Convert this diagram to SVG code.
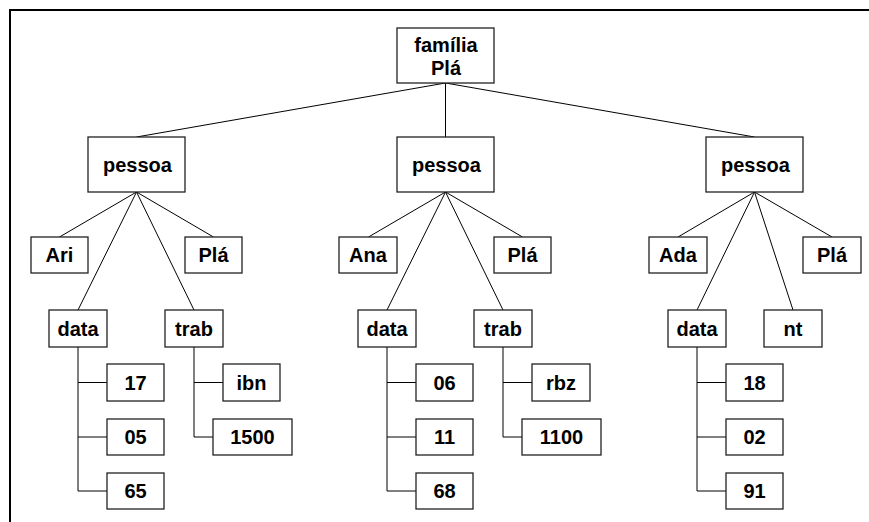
<svg xmlns="http://www.w3.org/2000/svg" width="869" height="522" viewBox="0 0 869 522">
<style>
rect.n{fill:#fff;stroke:#222;stroke-width:1.3}
text{font-family:"Liberation Sans",Arial,sans-serif;font-weight:bold;font-size:20px;text-anchor:middle;fill:#000}
#connectors line,#connectors path{stroke:#000;stroke-width:1;fill:none}
</style>
<rect x="0" y="0" width="869" height="522" fill="#fff"/>
<path d="M10,523 V10 H869" fill="none" stroke="#000" stroke-width="2"/>
<g id="connectors">
<line x1="445.5" y1="83" x2="136.5" y2="137"/>
<line x1="445.5" y1="83" x2="445.5" y2="137"/>
<line x1="445.5" y1="83" x2="754.5" y2="137"/>
<line x1="136.5" y1="192" x2="59.5" y2="237"/>
<line x1="136.5" y1="192" x2="78" y2="310"/>
<line x1="136.5" y1="192" x2="194" y2="310"/>
<line x1="136.5" y1="192" x2="213.5" y2="237"/>
<path d="M78,347 V491 H107 M78,382.5 H107 M78,437 H107"/>
<path d="M194,347 V437 H213 M194,382.5 H223"/>
<line x1="445.5" y1="192" x2="368.5" y2="237"/>
<line x1="445.5" y1="192" x2="387" y2="310"/>
<line x1="445.5" y1="192" x2="503" y2="310"/>
<line x1="445.5" y1="192" x2="522.5" y2="237"/>
<path d="M387,347 V491 H416 M387,382.5 H416 M387,437 H416"/>
<path d="M503,347 V437 H522 M503,382.5 H532"/>
<line x1="754.5" y1="192" x2="678" y2="237"/>
<line x1="754.5" y1="192" x2="697" y2="310"/>
<line x1="754.5" y1="192" x2="793" y2="310"/>
<line x1="754.5" y1="192" x2="832" y2="237"/>
<path d="M697,347 V491 H726 M697,382.5 H726 M697,437 H726"/>
</g>
<g id="familia"><rect class="n" x="397" y="28" width="97" height="55"/><text x="446" y="51.5">família</text><text x="446" y="74.5">Plá</text></g>
<g id="pessoa1"><rect class="n" x="88" y="137" width="97" height="55"/><text x="137.5" y="172">pessoa</text></g>
<g id="ari"><rect class="n" x="31" y="237" width="57" height="36"/><text x="59.5" y="262">Ari</text></g>
<g id="pla1"><rect class="n" x="185" y="237" width="57" height="36"/><text x="213.5" y="262">Plá</text></g>
<g id="data1"><rect class="n" x="49" y="310" width="58" height="37"/><text x="78" y="335.5">data</text></g>
<g id="trab1"><rect class="n" x="165" y="310" width="58" height="37"/><text x="194" y="335.5">trab</text></g>
<g id="d17"><rect class="n" x="107" y="364" width="57" height="37"/><text x="135.5" y="389.5">17</text></g>
<g id="d05"><rect class="n" x="107" y="419" width="57" height="36"/><text x="135.5" y="444">05</text></g>
<g id="d65"><rect class="n" x="107" y="473" width="57" height="36"/><text x="135.5" y="498">65</text></g>
<g id="ibn"><rect class="n" x="223" y="364" width="57" height="37"/><text x="251.5" y="389.5">ibn</text></g>
<g id="t1500"><rect class="n" x="213" y="419" width="79" height="36"/><text x="252.5" y="444">1500</text></g>
<g id="pessoa2"><rect class="n" x="397" y="137" width="97" height="55"/><text x="446.5" y="172">pessoa</text></g>
<g id="ana"><rect class="n" x="339" y="237" width="58" height="36"/><text x="368" y="262">Ana</text></g>
<g id="pla2"><rect class="n" x="494" y="237" width="57" height="36"/><text x="522.5" y="262">Plá</text></g>
<g id="data2"><rect class="n" x="358" y="310" width="58" height="37"/><text x="387" y="335.5">data</text></g>
<g id="trab2"><rect class="n" x="474" y="310" width="58" height="37"/><text x="503" y="335.5">trab</text></g>
<g id="d06"><rect class="n" x="416" y="364" width="57" height="37"/><text x="444.5" y="389.5">06</text></g>
<g id="d11"><rect class="n" x="416" y="419" width="57" height="36"/><text x="444.5" y="444">11</text></g>
<g id="d68"><rect class="n" x="416" y="473" width="57" height="36"/><text x="444.5" y="498">68</text></g>
<g id="rbz"><rect class="n" x="532" y="364" width="58" height="37"/><text x="561" y="389.5">rbz</text></g>
<g id="t1100"><rect class="n" x="522" y="419" width="79" height="36"/><text x="561.5" y="444">1100</text></g>
<g id="pessoa3"><rect class="n" x="706" y="137" width="97" height="55"/><text x="755.5" y="172">pessoa</text></g>
<g id="ada"><rect class="n" x="649" y="237" width="58" height="36"/><text x="678" y="262">Ada</text></g>
<g id="pla3"><rect class="n" x="803" y="237" width="58" height="36"/><text x="832" y="262">Plá</text></g>
<g id="data3"><rect class="n" x="668" y="310" width="58" height="37"/><text x="697" y="335.5">data</text></g>
<g id="nt"><rect class="n" x="764" y="310" width="58" height="37"/><text x="793" y="335.5">nt</text></g>
<g id="d18"><rect class="n" x="726" y="364" width="57" height="37"/><text x="754.5" y="389.5">18</text></g>
<g id="d02"><rect class="n" x="726" y="419" width="57" height="36"/><text x="754.5" y="444">02</text></g>
<g id="d91"><rect class="n" x="726" y="473" width="57" height="36"/><text x="754.5" y="498">91</text></g>
</svg>
